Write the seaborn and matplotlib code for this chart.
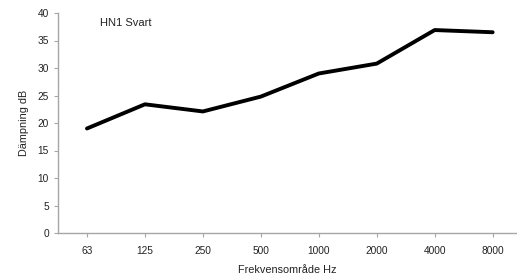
import pandas as pd
import matplotlib.pyplot as plt
import seaborn as sns

frekvens = ['63', '125', '250', '500', '1000', '2000', '4000', '8000']
dampning = [19.0, 23.4, 22.1, 24.8, 29.0, 30.8, 36.9, 36.5]

df = pd.DataFrame({'pos': range(len(frekvens)), 'dB': dampning})

sns.set_style('white')
plt.rcParams['font.family'] = ['Liberation Sans', 'DejaVu Sans']

fig = plt.figure(figsize=(5.17, 2.76), dpi=100)
ax = fig.add_axes([58 / 517, 1 - 233 / 276, (517 - 58) / 517, 220 / 276])

sns.lineplot(data=df, x='pos', y='dB', color='black', linewidth=2.8, ax=ax)

ax.set_xlim(-0.5, 7.42)
ax.set_ylim(0, 40)
ax.set_xticks(range(len(frekvens)))
ax.set_xticklabels(frekvens)
ax.set_yticks(range(0, 41, 5))
ax.tick_params(axis='both', labelsize=7.3, length=3, width=0.8,
               direction='out', bottom=True, left=True,
               color='#a6a6a6', labelcolor='#222222')
ax.tick_params(axis='x', pad=6)
for s in ['top', 'right']:
    ax.spines[s].set_visible(False)
for s in ['left', 'bottom']:
    ax.spines[s].set_color('#a6a6a6')
    ax.spines[s].set_linewidth(1)

ax.set_xlabel('Frekvensområde Hz', fontsize=7.8, color='#222222', labelpad=7)
ax.set_ylabel('Dämpning dB', fontsize=7.8, color='#222222', labelpad=6)
ax.text(0.22, 38.1, 'HN1 Svart', fontsize=8, color='#222222', va='center')

fig.savefig('out.png', dpi=100)
